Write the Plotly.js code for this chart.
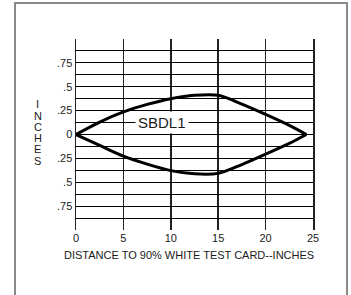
<!DOCTYPE html>
<html>
<head>
<meta charset="utf-8">
<script src="https://cdn.plot.ly/plotly-3.0.1.min.js"></script>
<style>
  html, body { margin: 0; padding: 0; background: #fff; }
  #wrap { position: relative; width: 351px; height: 295px; overflow: hidden; }
  #chart { position: absolute; left: 0; top: 0; width: 351px; height: 295px; }
  #frame { position: absolute; left: 14px; top: 2px; width: 330px; height: 320px;
           border: 2px solid #8a8a8a; pointer-events: none; }
</style>
</head>
<body>
<div id="wrap">
  <div id="chart"></div>
  <div id="frame"></div>
</div>
<script>
// Distance to 90% white test card (inches)
const distance = [0, 2.5, 5, 7.5, 10, 12.5, 15, 17.5, 20, 22.5, 24.3];
// Upper and lower edge of the detection zone (inches)
const upperEdge = [0, 0.13, 0.236, 0.315, 0.375, 0.41, 0.41, 0.318, 0.21, 0.095, 0];
const lowerEdge = [0, -0.115, -0.227, -0.31, -0.378, -0.412, -0.407, -0.315, -0.206, -0.093, 0];

const xTickVals = [0, 5, 10, 15, 20, 25];
const xTickText = ['0', '5', '10', '15', '20', '25'];
const yTickVals = [-0.875, -0.75, -0.625, -0.5, -0.375, -0.25, -0.125, 0, 0.125, 0.25, 0.375, 0.5, 0.625, 0.75, 0.875];
const yTickText = ['', '.75', '', '.5', '', '.25', '', '0', '', '.25', '', '.5', '', '.75', ''];

const seriesLabel = 'SBDL1';
const xTitle = 'DISTANCE TO 90% WHITE TEST CARD--INCHES';
const yTitle = 'INCHES';

const font = { family: 'Liberation Sans, Arial, sans-serif', color: '#1a1a1a', size: 11 };

const lineStyle = { color: '#000', width: 3, shape: 'spline', smoothing: 0.8 };
const traces = [
  { x: distance, y: upperEdge, mode: 'lines', line: lineStyle, hoverinfo: 'skip' },
  { x: distance, y: lowerEdge, mode: 'lines', line: lineStyle, hoverinfo: 'skip' }
];

const annotations = [
  { x: 9.03, y: 0.125, xref: 'x', yref: 'y', text: seriesLabel, showarrow: false,
    bgcolor: '#fff', borderpad: 2, font: { family: font.family, size: 15, color: '#1a1a1a' },
    xanchor: 'center', yanchor: 'middle' },
  { x: 0.477, y: -0.13, xref: 'paper', yref: 'paper', text: xTitle, showarrow: false,
    font: font, xanchor: 'center', yanchor: 'middle' }
];
yTitle.split('').forEach((ch, i) => {
  annotations.push({ x: -0.161, y: (229.9 - (104 + i * 11.3)) / 191.2, xref: 'paper', yref: 'paper',
    text: ch, showarrow: false, font: font, xanchor: 'center', yanchor: 'middle' });
});

const layout = {
  width: 351, height: 295,
  margin: { l: 76, r: 37.7, t: 38.7, b: 65.1 },
  paper_bgcolor: 'rgba(0,0,0,0)', plot_bgcolor: '#fff',
  showlegend: false,
  font: font,
  xaxis: {
    range: [0, 25], tickvals: xTickVals, ticktext: xTickText,
    showgrid: true, gridcolor: '#222', gridwidth: 1.5,
    zeroline: false, showline: false, ticks: '', tickfont: font, fixedrange: true
  },
  yaxis: {
    range: [-1, 1], tickvals: yTickVals, ticktext: yTickText,
    showgrid: true, gridcolor: '#000', gridwidth: 1,
    zeroline: true, zerolinecolor: '#000', zerolinewidth: 1,
    showline: true, mirror: true, linecolor: '#222', linewidth: 1.5,
    ticks: '', tickfont: font, fixedrange: true
  },
  annotations: annotations
};

Plotly.newPlot('chart', traces, layout, { staticPlot: true, displayModeBar: false });
</script>
</body>
</html>
